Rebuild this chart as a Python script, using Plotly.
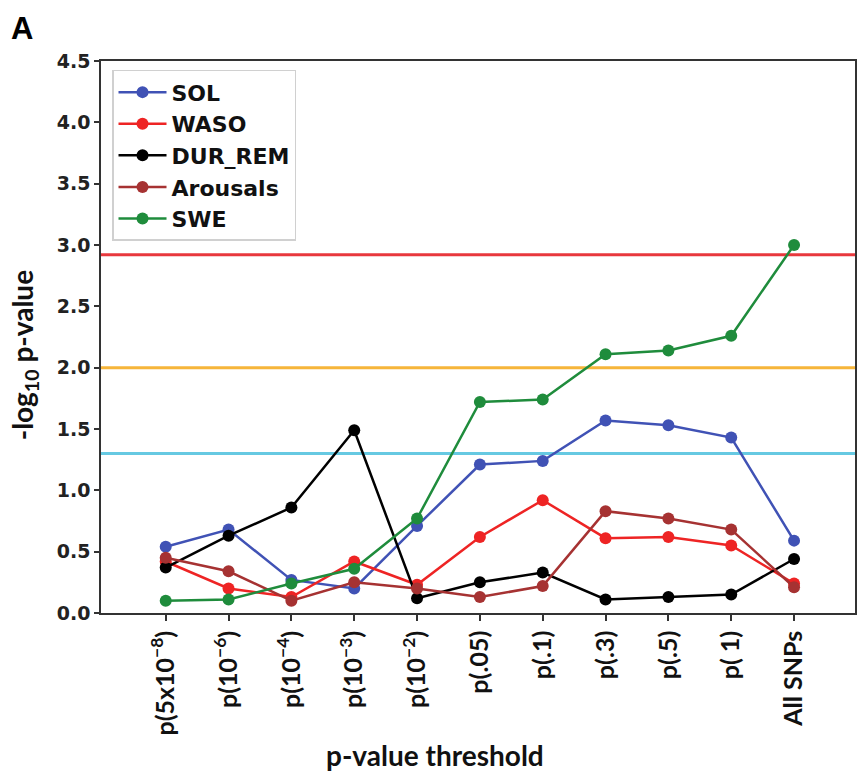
import plotly.graph_objects as go

categories = ["p(5x10<sup>−8</sup>)", "p(10<sup>−6</sup>)", "p(10<sup>−4</sup>)", "p(10<sup>−3</sup>)",
              "p(10<sup>−2</sup>)", "p(.05)", "p(.1)", "p(.3)", "p(.5)", "p( 1)", "All SNPs"]

sol = [0.54, 0.68, 0.27, 0.20, 0.71, 1.21, 1.24, 1.57, 1.53, 1.43, 0.59]
waso = [0.42, 0.20, 0.13, 0.42, 0.23, 0.62, 0.92, 0.61, 0.62, 0.55, 0.24]
dur_rem = [0.37, 0.63, 0.86, 1.49, 0.12, 0.25, 0.33, 0.11, 0.13, 0.15, 0.44]
arousals = [0.45, 0.34, 0.10, 0.25, 0.20, 0.13, 0.22, 0.83, 0.77, 0.68, 0.21]
swe = [0.10, 0.11, 0.24, 0.36, 0.77, 1.72, 1.74, 2.11, 2.14, 2.26, 3.00]

series_names = ["SOL", "WASO", "DUR_REM", "Arousals", "SWE"]
series_values = [sol, waso, dur_rem, arousals, swe]
series_colors = ["#4052B5", "#EE2424", "#000000", "#A63232", "#1F8C3C"]

thresholds = [2.92, 2.0, 1.301]
threshold_colors = ["#E8383D", "#F6B53A", "#66C9E2"]

y_ticks = [0.0, 0.5, 1.0, 1.5, 2.0, 2.5, 3.0, 3.5, 4.0, 4.5]

x_idx = list(range(len(categories)))

fig = go.Figure()
for name, vals, col in zip(series_names, series_values, series_colors):
    fig.add_trace(go.Scatter(
        x=x_idx, y=vals, name=name, mode="lines+markers",
        line=dict(color=col, width=2.5),
        marker=dict(color=col, size=12),
    ))

for t, c in zip(thresholds, threshold_colors):
    fig.add_shape(type="line", xref="paper", x0=0, x1=1, yref="y", y0=t, y1=t,
                  line=dict(color=c, width=3), layer="below")

fig.update_layout(
    width=860, height=773,
    margin=dict(l=101, r=3, t=61, b=160),
    paper_bgcolor="white", plot_bgcolor="white",
    showlegend=True,
    legend=dict(
        x=0.0146, y=0.984, xanchor="left", yanchor="top",
        font=dict(family="DejaVu Sans", size=22, color="#111", weight="bold"),
        bordercolor="#d0d0d0", borderwidth=1.5, bgcolor="white",
        itemwidth=48, tracegroupgap=0,
    ),
    xaxis=dict(
        range=[-1.03, 10.97],
        tickmode="array", tickvals=x_idx, ticktext=categories,
        tickangle=-90,
        tickfont=dict(family="Lato", size=25, color="#111", weight="bold"),
        ticks="outside", ticklen=6, tickwidth=1.5, tickcolor="#333",
        showline=True, linecolor="#333", linewidth=1.5, mirror=True,
        showgrid=False, zeroline=False,
    ),
    yaxis=dict(
        range=[0, 4.5],
        tickmode="array", tickvals=y_ticks,
        ticktext=[f"{v:.1f}" for v in y_ticks],
        tickfont=dict(family="DejaVu Sans", size=19, color="#222", weight="bold"),
        ticks="outside", ticklen=5, tickwidth=1.5, tickcolor="#333",
        showline=True, linecolor="#333", linewidth=1.5, mirror=True,
        showgrid=False, zeroline=False,
    ),
    annotations=[
        dict(text="A", xref="paper", yref="paper", x=-0.122, y=1.095,
             xanchor="left", yanchor="top", showarrow=False,
             font=dict(family="Liberation Sans", size=31, color="#000", weight="bold")),
        dict(text="p-value threshold", xref="paper", yref="paper", x=0.443, y=-0.257,
             xanchor="center", yanchor="middle", showarrow=False,
             font=dict(family="Lato", size=28, color="#111", weight="bold")),
        dict(text="-log<sub>10</sub> p-value", xref="paper", yref="paper", x=-0.102, y=0.467,
             xanchor="center", yanchor="middle", showarrow=False, textangle=-90,
             font=dict(family="Lato", size=28, color="#111", weight="bold")),
    ],
)

fig.write_html("out.html")
